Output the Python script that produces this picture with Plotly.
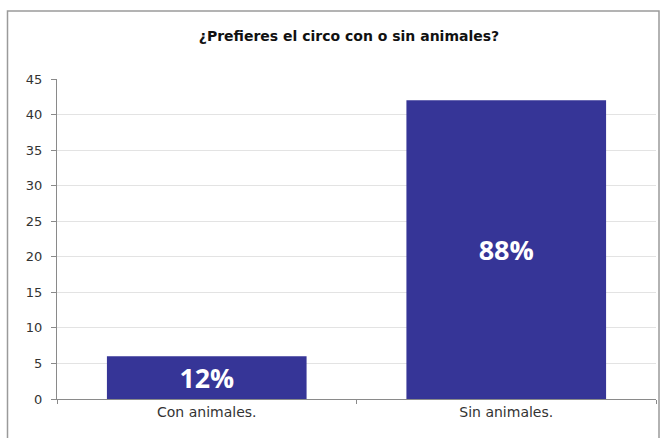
import plotly.graph_objects as go

categories = ["Con animales.", "Sin animales."]
values = [6, 42]
labels = ["12%", "88%"]

W, H = 665, 438
L, R, T, B = 57, 656, 79, 399

fig = go.Figure(go.Bar(
    x=categories, y=values, text=labels,
    textposition="inside", insidetextanchor="middle",
    textfont=dict(family="Open Sans", size=27, color="white", weight="bold"),
    marker=dict(color="#363597", line=dict(width=0)),
    cliponaxis=False,
))

pw, ph = R - L, B - T
def px(x): return (x - L) / pw
def py(y): return (B - y) / ph

fig.update_layout(
    width=W, height=H,
    margin=dict(l=L, r=W - R, t=T, b=H - B),
    paper_bgcolor="white", plot_bgcolor="white",
    bargap=1/3,
    showlegend=False,
    title=dict(text="<b>¿Prefieres el circo con o sin animales?</b>",
               x=349 / W, xanchor="center", xref="container", y=1 - 36/H, yanchor="middle",
               font=dict(family="DejaVu Sans", size=14, color="#111111")),
    font=dict(family="DejaVu Sans", size=12, color="#333333"),
    xaxis=dict(showline=True, linecolor="#8a8a8a", linewidth=1,
               ticks="outside", tickson="boundaries", ticklen=4, tickcolor="#8a8a8a",
               showgrid=False, tickfont=dict(size=14, color="#333333")),
    yaxis=dict(range=[0, 45], dtick=5, showline=True, linecolor="#8a8a8a", linewidth=1,
               ticks="outside", ticklen=5, tickcolor="#8a8a8a", ticklabelstandoff=6,
               gridcolor="#e3e3e3", gridwidth=1, zeroline=False,
               tickfont=dict(size=13, color="#333333")),
    shapes=[dict(type="rect", xref="paper", yref="paper",
                 x0=px(7.5), x1=px(659), y0=py(445), y1=py(11),
                 line=dict(color="#9a9a9a", width=1.5), fillcolor="rgba(0,0,0,0)",
                 layer="below")],
)

fig.write_html("out.html", config={"displayModeBar": False},
               post_script="document.body.style.margin='0';")
